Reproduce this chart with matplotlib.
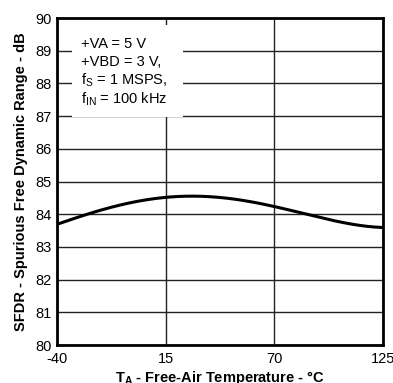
import matplotlib
matplotlib.use("Agg")
import matplotlib.pyplot as plt
import numpy as np
from matplotlib.patches import Rectangle

plt.rcParams['font.family'] = ['Liberation Sans', 'DejaVu Sans']
plt.rcParams['axes.unicode_minus'] = False

temp = [-40, -24, -7, 15, 26, 42, 59, 70, 93, 125]
sfdr = [83.70, 84.00, 84.28, 84.54, 84.57, 84.50, 84.35, 84.23, 83.92, 83.59]
xticks = [-40, 15, 70, 125]
yticks = [80, 81, 82, 83, 84, 85, 86, 87, 88, 89, 90]

fig = plt.figure(figsize=(3.93, 3.83), dpi=100)
ax = fig.add_axes([0.145, 0.0992, 0.8296, 0.8538])

t = np.array(temp, float); s = np.array(sfdr, float)
tt = np.linspace(-40, 125, 300)
coef = np.polyfit(t, s, 4)
ax.plot(tt, np.polyval(coef, tt), color='black', lw=2.2, zorder=3, solid_capstyle='butt')

ax.set_xlim(-40, 125)
ax.set_ylim(80, 90)
ax.set_xticks(xticks)
ax.set_yticks(yticks)
ax.grid(True, color='#222222', lw=1.0, zorder=0)
ax.set_axisbelow(True)
ax.tick_params(length=0, labelsize=10.5)
ax.tick_params(axis='y', pad=4)
ax.tick_params(axis='x', pad=5)
for sp in ax.spines.values():
    sp.set_linewidth(2.0)

ax.add_patch(Rectangle((0.046, 0.697), 0.34, 0.282, transform=ax.transAxes,
                       facecolor='white', edgecolor='none', zorder=2))
lines = ['+VA = 5 V', '+VBD = 3 V,', '$\\mathregular{f_S}$ = 1 MSPS,', '$\\mathregular{f_{IN}}$ = 100 kHz']
ys = [0.92, 0.865, 0.81, 0.752]
for l, y in zip(lines, ys):
    ax.text(0.075, y, l, transform=ax.transAxes, fontsize=10.5,
            va='center', ha='left', zorder=4)

ax.set_xlabel('$\\mathregular{T_A}$ - Free-Air Temperature - °C', fontsize=10.5,
              fontweight='bold', labelpad=2)
ax.set_ylabel('SFDR - Spurious Free Dynamic Range - dB', fontsize=10.5,
              fontweight='bold', labelpad=5)

fig.savefig('out.png', dpi=100)
